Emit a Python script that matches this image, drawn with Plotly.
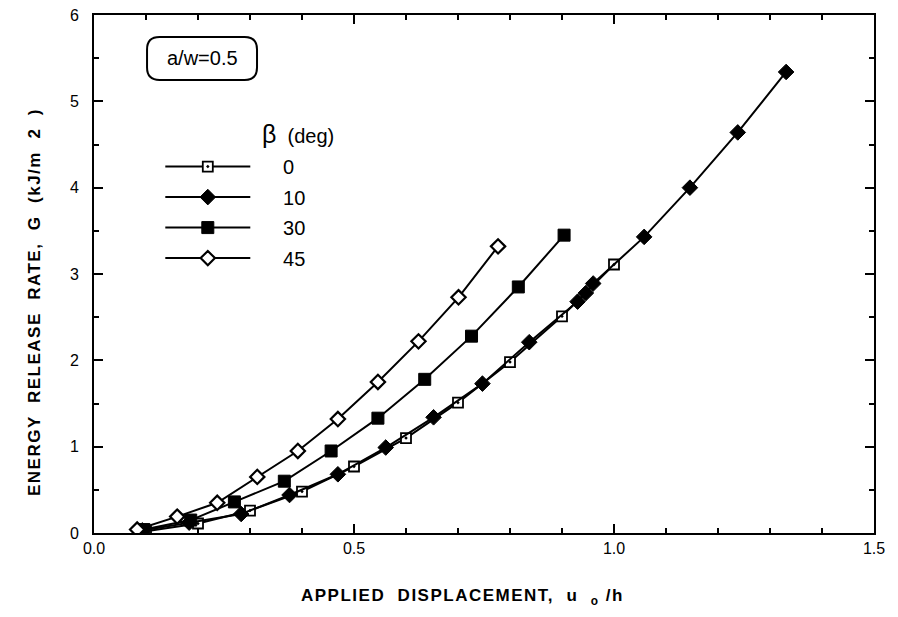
import plotly.graph_objects as go

# ---- data ----
beta_labels = ["0", "10", "30", "45"]

x0 = [0.10, 0.20, 0.30, 0.40, 0.50, 0.60, 0.70, 0.80, 0.90, 1.00]
g0 = [0.02, 0.11, 0.26, 0.48, 0.77, 1.10, 1.51, 1.98, 2.51, 3.11]

x10 = [0.093, 0.183, 0.283, 0.376, 0.469, 0.561, 0.653, 0.747, 0.837, 0.930, 0.946, 0.960, 1.058, 1.146, 1.238, 1.331]
g10 = [0.03, 0.12, 0.22, 0.44, 0.68, 0.99, 1.34, 1.73, 2.21, 2.68, 2.78, 2.89, 3.43, 4.00, 4.64, 5.34]

x30 = [0.096, 0.186, 0.270, 0.366, 0.456, 0.546, 0.636, 0.726, 0.816, 0.904]
g30 = [0.04, 0.15, 0.36, 0.60, 0.95, 1.33, 1.78, 2.28, 2.85, 3.45]

x45 = [0.083, 0.160, 0.237, 0.314, 0.392, 0.469, 0.546, 0.624, 0.701, 0.777]
g45 = [0.04, 0.19, 0.35, 0.65, 0.95, 1.32, 1.75, 2.22, 2.73, 3.32]

x_ticks = [0.0, 0.5, 1.0, 1.5]
x_ticktext = ["0.0", "0.5", "1.0", "1.5"]
y_ticks = [0, 1, 2, 3, 4, 5, 6]

FONT = "Liberation Sans, Arial, Helvetica, sans-serif"
NB = "\u00a0" * 5

series = [
    (x0, g0, beta_labels[0], dict(symbol="square-dot", size=10, color="white", line=dict(color="black", width=1.8))),
    (x10, g10, beta_labels[1], dict(symbol="diamond", size=12, color="black", line=dict(color="black", width=1))),
    (x30, g30, beta_labels[2], dict(symbol="square", size=12, color="black", line=dict(color="black", width=1))),
    (x45, g45, beta_labels[3], dict(symbol="diamond", size=11, color="white", line=dict(color="black", width=2.2))),
]

fig = go.Figure()
for i, (xs, ys, name, mk) in enumerate(series):
    fig.add_trace(go.Scatter(
        x=xs, y=ys, name=NB + name, mode="lines+markers",
        line=dict(color="black", width=2),
        marker=mk, legendgroup=f"g{i}",
    ))

axis_common = dict(
    showgrid=False, zeroline=False, showline=True, linecolor="black", linewidth=2,
    mirror="allticks", ticks="inside", ticklen=9, tickwidth=2, tickcolor="black",
    tickfont=dict(family=FONT, size=16, color="black"), automargin=False,
    ticklabeloverflow="allow",
)

fig.update_xaxes(
    range=[0, 1.5], tickvals=x_ticks, ticktext=x_ticktext,
    minor=dict(dtick=0.1, ticks="inside", ticklen=5, tickwidth=1.5, tickcolor="black"),
    **axis_common,
)
fig.update_yaxes(
    range=[0, 6], tickvals=y_ticks, ticklabelstandoff=10,
    minor=dict(dtick=0.5, ticks="inside", ticklen=5, tickwidth=1.5, tickcolor="black"),
    **axis_common,
)

# rounded box around a/w label
x0b, x1b, y0b, y1b = 0.068, 0.209, 0.8745, 0.9575
rx, ry = 0.016, 0.024
path = (f"M {x0b+rx},{y1b} L {x1b-rx},{y1b} Q {x1b},{y1b} {x1b},{y1b-ry} "
        f"L {x1b},{y0b+ry} Q {x1b},{y0b} {x1b-rx},{y0b} L {x0b+rx},{y0b} "
        f"Q {x0b},{y0b} {x0b},{y0b+ry} L {x0b},{y1b-ry} Q {x0b},{y1b} {x0b+rx},{y1b} Z")
fig.add_shape(type="path", path=path, xref="paper", yref="paper",
              line=dict(color="black", width=2))

fig.add_annotation(text="a/w=0.5", xref="paper", yref="paper", x=0.1385, y=0.917,
                   xanchor="center", yanchor="middle",
                   showarrow=False, font=dict(family=FONT, size=20, color="black"))
fig.add_annotation(text="<span style='font-size:25px'>β</span>  (deg)", xref="paper", yref="paper",
                   x=0.262, y=0.770, xanchor="center", yanchor="middle",
                   showarrow=False, font=dict(family=FONT, size=20, color="black"))

fig.add_annotation(text="<b><span style='letter-spacing:1.5px'>ENERGY  RELEASE  RATE,  G  (kJ/m  2  )</span></b>",
                   xref="paper", yref="paper",
                   x=-0.0756, y=0.446, xanchor="center", yanchor="middle", textangle=-90, showarrow=False,
                   font=dict(family=FONT, size=17, color="black"))
fig.add_annotation(text="<b><span style='letter-spacing:1.5px'>APPLIED  DISPLACEMENT,  u  <sub>o</sub> /h</span></b>",
                   xref="paper", yref="paper",
                   x=0.472, y=-0.123, xanchor="center", yanchor="middle", showarrow=False,
                   font=dict(family=FONT, size=17, color="black"))

fig.update_layout(
    width=898, height=617,
    margin=dict(l=86, r=32, t=7, b=92),
    paper_bgcolor="white", plot_bgcolor="white",
    showlegend=True,
    legend=dict(x=0.085, y=0.745, xanchor="left", yanchor="top",
                bgcolor="rgba(0,0,0,0)", itemwidth=85,
                traceorder="grouped", tracegroupgap=1.5,
                font=dict(family=FONT, size=20, color="black")),
)

fig.write_html("out.html")
